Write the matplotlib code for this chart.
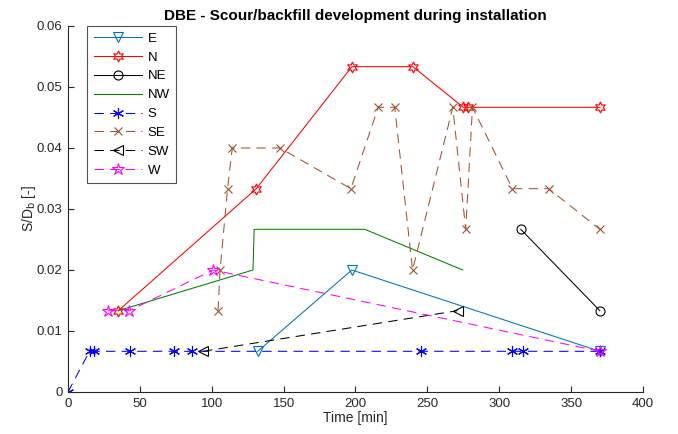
import matplotlib
matplotlib.use('Agg')
import matplotlib.pyplot as plt

plt.rcParams['font.family'] = ['Liberation Sans', 'DejaVu Sans']

# scour depth S/Db per direction, time in minutes
t_E = [132, 197.5, 370]
s_E = [0.00667, 0.02, 0.00667]

t_N = [35, 131, 197.5, 240, 275, 278, 370]
s_N = [0.01333, 0.03333, 0.05333, 0.05333, 0.04667, 0.04667, 0.04667]

t_NE = [315, 370]
s_NE = [0.02667, 0.01333]

t_NW = [35, 128.7, 129.5, 206.5, 274.6]
s_NW = [0.01333, 0.02, 0.02667, 0.02667, 0.02]

t_S = [0, 15, 18.4, 43.2, 74, 86.4, 245.4, 308.7, 316.3, 370]
s_S = [0, 0.00667, 0.00667, 0.00667, 0.00667, 0.00667, 0.00667, 0.00667, 0.00667, 0.00667]

t_SE = [104.4, 105.8, 111, 114.3, 147.5, 196.8, 215.8, 227.3, 239.7, 267.7, 276.7, 281.4, 309.2, 334.4, 370]
s_SE = [0.01333, 0.02, 0.03333, 0.04, 0.04, 0.03333, 0.04667, 0.04667, 0.02, 0.04667, 0.02667, 0.04667, 0.03333, 0.03333, 0.02667]

t_SW = [94, 271]
s_SW = [0.00667, 0.01333]

t_W = [28, 42.6, 101, 370]
s_W = [0.01333, 0.01333, 0.02, 0.00667]

brown = '#A0522D'
dash = (9, 6)
lw = 0.75

fig = plt.figure(figsize=(6.78, 4.34), dpi=100)
ax = fig.add_axes([0.1003, 0.0968, 0.8480, 0.8433])

ax.plot(t_E, s_E, color='#0072BD', lw=lw, marker='v', ms=7.5, mfc='none', mew=0.8, label='E')
ax.plot(t_N, s_N, color='red', lw=lw, marker=(6, 1, 0), ms=8, mfc='none', mew=0.8, label='N')
ax.plot(t_NE, s_NE, color='black', lw=lw, marker='o', ms=6.5, mfc='none', mew=0.8, label='NE')
ax.plot(t_NW, s_NW, color='#008000', lw=lw, label='NW')
ax.plot(t_S, s_S, color='blue', lw=lw, dashes=dash, marker=(6, 2, 0), ms=8, mew=0.8, label='S')
ax.plot(t_SE, s_SE, color=brown, lw=lw, dashes=dash, marker='x', ms=6, mew=0.8, label='SE')
ax.plot(t_SW, s_SW, color='black', lw=lw, dashes=dash, marker='<', ms=7.5, mfc='none', mew=0.8, label='SW')
ax.plot(t_W, s_W, color='magenta', lw=lw, dashes=dash, marker='*', ms=9, mfc='none', mew=0.8, label='W')

ax.set_xlim(0, 400)
ax.set_ylim(0, 0.06)
ax.set_xticks(range(0, 401, 50))
ax.set_yticks([0, 0.01, 0.02, 0.03, 0.04, 0.05, 0.06])
ax.set_yticklabels(['0', '0.01', '0.02', '0.03', '0.04', '0.05', '0.06'])
ax.spines['top'].set_visible(False)
ax.spines['right'].set_visible(False)
ax.tick_params(direction='in', length=4, labelsize=9.5, colors='#262626', width=0.8, pad=4)
for sp in ['left', 'bottom']:
    ax.spines[sp].set_linewidth(0.8)
    ax.spines[sp].set_color('#262626')

ax.set_xlabel('Time [min]', fontsize=10, color='#262626', labelpad=1)
ax.set_ylabel('S/D$_\\mathrm{b}$ [-]', fontsize=10, color='#262626', labelpad=-1)
ax.set_title('DBE - Scour/backfill development during installation', fontsize=11, fontweight='bold', pad=4)

leg = ax.legend(loc='upper left', bbox_to_anchor=(0.033, 1.0), fontsize=9.5, fancybox=False,
                edgecolor='#262626', handlelength=3.7, labelspacing=0.5, borderpad=0.5,
                handletextpad=0.4, borderaxespad=0)
leg.get_frame().set_linewidth(0.8)

fig.savefig('out.png', dpi=100)
